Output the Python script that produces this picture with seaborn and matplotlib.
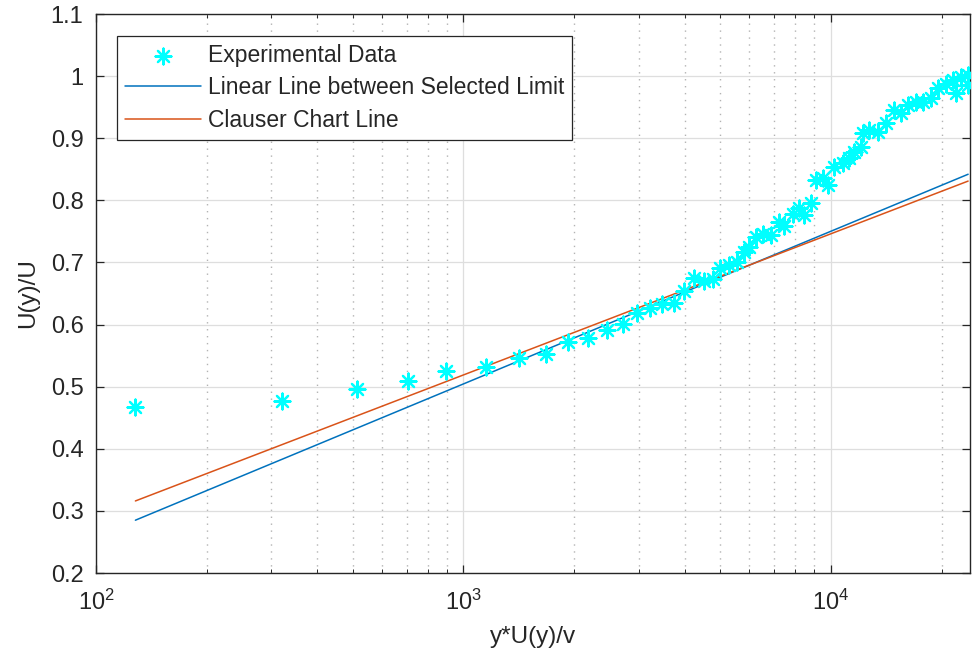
import numpy as np
import pandas as pd
import matplotlib
matplotlib.use("Agg")
import matplotlib.pyplot as plt
import seaborn as sns
from matplotlib.ticker import LogLocator, NullFormatter

# ---- data ----
exp_x = [128, 321, 513, 705, 899, 1155, 1412, 1673, 1920, 2178,
         2453, 2712, 2961, 3213, 3465, 3735, 3975, 4236, 4508, 4767,
         4985, 5275, 5546, 5793, 5979, 6249, 6529, 6866, 7217, 7448,
         7875, 8185, 8438, 8830, 9102, 9508, 9815, 10189, 10790, 11200,
         11550, 12070, 12220, 12700, 13430, 14120, 14850, 15520, 16220, 17050,
         17810, 18720, 19580, 20560, 21490, 21920, 22610, 23620, 23620]
exp_y = [0.467, 0.477, 0.496, 0.509, 0.525, 0.532, 0.546, 0.553, 0.572, 0.578,
         0.591, 0.601, 0.619, 0.627, 0.633, 0.635, 0.654, 0.675, 0.670, 0.673,
         0.691, 0.696, 0.701, 0.717, 0.725, 0.741, 0.746, 0.744, 0.765, 0.759,
         0.778, 0.788, 0.776, 0.796, 0.833, 0.836, 0.825, 0.854, 0.860, 0.868,
         0.878, 0.886, 0.908, 0.913, 0.910, 0.924, 0.945, 0.941, 0.953, 0.958,
         0.958, 0.965, 0.981, 0.987, 0.994, 0.973, 0.999, 0.986, 1.002]

line_x = [128, 23620]
linear_y = [0.285, 0.842]
clauser_y = [0.316, 0.831]

y_ticks = [0.2, 0.3, 0.4, 0.5, 0.6, 0.7, 0.8, 0.9, 1.0, 1.1]
y_tick_labels = ["0.2", "0.3", "0.4", "0.5", "0.6", "0.7", "0.8", "0.9", "1", "1.1"]

labels = ["Experimental Data", "Linear Line between Selected Limit", "Clauser Chart Line"]
x_label = "y*U(y)/v"
y_label = "U(y)/U"

# ---- styling ----
sns.set_theme(style="ticks")
plt.rcParams["font.family"] = ["Liberation Sans", "DejaVu Sans"]
plt.rcParams["mathtext.default"] = "regular"
plt.rcParams["mathtext.fontset"] = "custom"
plt.rcParams["mathtext.rm"] = "Liberation Sans"
plt.rcParams["mathtext.it"] = "Liberation Sans"

FS_TICK = 17
FS_LABEL = 17.5
FS_LEG = 16.5
c_blue = "#0072BD"
c_orange = "#D95319"
c_cyan = "#00FFFF"
dark = "#262626"

fig = plt.figure(figsize=(9.72, 6.59), dpi=100)
ax = fig.add_axes([96 / 972, 1 - 573 / 659, 874 / 972, (573 - 14) / 659])

df_exp = pd.DataFrame({"x": exp_x, "y": exp_y})
df_lin = pd.DataFrame({"x": line_x, "y": linear_y})
df_cla = pd.DataFrame({"x": line_x, "y": clauser_y})

ax.set_xscale("log")

sns.scatterplot(data=df_exp, x="x", y="y", ax=ax, marker=(8, 2, 0), s=130,
                color=c_cyan, edgecolor=c_cyan, linewidth=1.6, label=labels[0], zorder=3)
sns.lineplot(data=df_lin, x="x", y="y", ax=ax, color=c_blue, linewidth=1.1,
             label=labels[1], zorder=2, estimator=None, sort=False)
sns.lineplot(data=df_cla, x="x", y="y", ax=ax, color=c_orange, linewidth=1.1,
             label=labels[2], zorder=2, estimator=None, sort=False)

ax.set_xlim(100, 23900)
ax.set_ylim(0.2, 1.1)
ax.set_yticks(y_ticks)
ax.set_yticklabels(y_tick_labels)
ax.xaxis.set_major_locator(LogLocator(base=10, numticks=10))
ax.xaxis.set_minor_locator(LogLocator(base=10, subs=np.arange(2, 10), numticks=100))
ax.xaxis.set_minor_formatter(NullFormatter())

ax.grid(True, which="major", color="#dedede", linewidth=0.9, linestyle="-", zorder=0)
ax.grid(True, which="minor", axis="x", color="#b3b3b3", linewidth=1.0,
        linestyle=(0, (1, 4)), zorder=0)
ax.set_axisbelow(True)

for sp in ax.spines.values():
    sp.set_visible(True)
    sp.set_color(dark)
    sp.set_linewidth(1.0)

ax.tick_params(axis="y", which="major", direction="in", length=6, width=0.9,
               colors=dark, labelsize=FS_TICK, left=True, right=True, pad=9)
ax.tick_params(axis="x", which="major", direction="in", length=6, width=0.9,
               colors=dark, labelsize=FS_TICK, top=True, bottom=True, pad=12)
ax.tick_params(axis="x", which="minor", direction="in", length=3, width=0.7,
               colors=dark, top=True, bottom=True)

ax.set_xlabel(x_label, fontsize=FS_LABEL, color=dark, labelpad=8)
ax.set_ylabel(y_label, fontsize=FS_LABEL, color=dark, labelpad=8)

leg = ax.legend(loc="upper left", bbox_to_anchor=((117 - 96) / 874, (573 - 35.5) / 559),
                fontsize=FS_LEG, frameon=True, fancybox=False, framealpha=1,
                edgecolor=dark, handlelength=3.3, handletextpad=0.3,
                borderpad=0.35, labelspacing=0.42, borderaxespad=0)
leg.get_frame().set_linewidth(0.9)

fig.savefig("out.png", dpi=100)
